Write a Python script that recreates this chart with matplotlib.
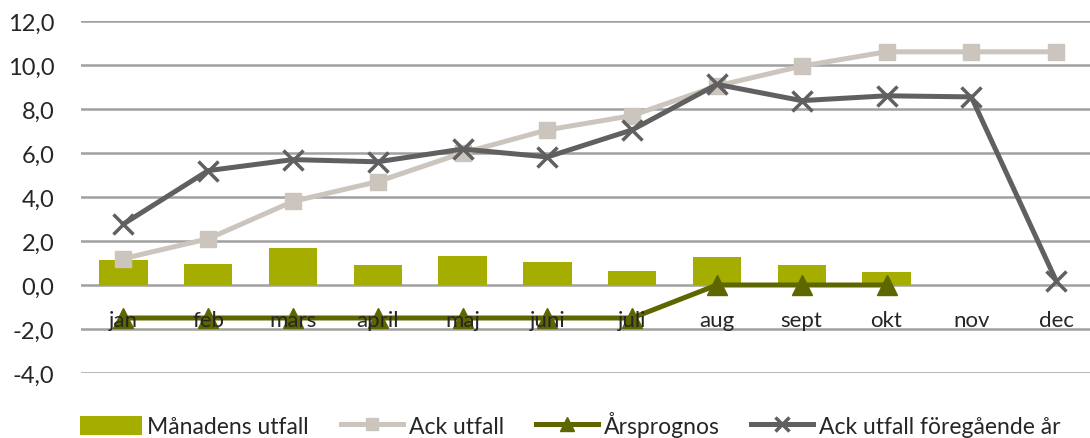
import matplotlib
matplotlib.use("Agg")
import matplotlib.pyplot as plt
import numpy as np
from matplotlib.ticker import FuncFormatter

months = ["jan", "feb", "mars", "april", "maj", "juni", "juli", "aug", "sept", "okt", "nov", "dec"]
manadens_utfall = [1.15, 0.95, 1.67, 0.9, 1.3, 1.05, 0.62, 1.28, 0.9, 0.6, None, None]
ack_utfall = [1.2, 2.1, 3.8, 4.7, 6.0, 7.05, 7.7, 9.05, 9.95, 10.6, 10.6, 10.6]
arsprognos = [-1.5, -1.5, -1.5, -1.5, -1.5, -1.5, -1.5, 0.0, 0.0, 0.0, None, None]
ack_foregaende = [2.77, 5.2, 5.7, 5.6, 6.18, 5.82, 7.05, 9.12, 8.38, 8.6, 8.55, 0.2]
yticks = [-4, -2, 0, 2, 4, 6, 8, 10, 12]

plt.rcParams['font.family'] = ['Lato', 'DejaVu Sans']
fig = plt.figure(figsize=(10.9, 4.39), dpi=100)
ax = fig.add_axes([81/1090, 1-374/439, 1-81/1090, (374-22)/439])

x = np.arange(len(months))
bar_x = [i for i, v in enumerate(manadens_utfall) if v is not None]
bar_v = [v for v in manadens_utfall if v is not None]
hb = ax.bar(bar_x, bar_v, width=0.57, color="#A5AD00", zorder=2, label="Månadens utfall")

h1, = ax.plot(x, ack_utfall, color="#CBC5BE", lw=3.6, marker="s", ms=11, mec="#CBC5BE",
              zorder=3, label="Ack utfall")
px = [i for i, v in enumerate(arsprognos) if v is not None]
pv = [v for v in arsprognos if v is not None]
h2, = ax.plot(px, pv, color="#5E6600", lw=3.6, marker="^", ms=14, zorder=4, label="Årsprognos")
h3, = ax.plot(x, ack_foregaende, color="#606060", lw=3.6, marker="x", ms=14, mew=2.5,
              zorder=5, label="Ack utfall föregående år")

ax.set_xlim(-0.5, 11.4)
ax.set_ylim(-4, 12)
ax.set_yticks(yticks)
ax.yaxis.set_major_formatter(FuncFormatter(lambda v, p: f"{v:.1f}".replace(".", ",")))
ax.grid(axis="y", color="#A0A0A0", lw=1.8)
ax.set_axisbelow(True)
for s in ax.spines.values():
    s.set_visible(False)
ax.tick_params(axis="y", length=0, pad=19, labelsize=17, labelcolor="#262626")
ax.set_xticks(x)
ax.set_xticklabels(months)
ax.spines['bottom'].set_position(('data', 0))
ax.tick_params(axis="x", length=0, pad=18, labelsize=16, labelcolor="#262626")
ax.xaxis.set_zorder(10)

fig.legend([hb, h1, h2, h3], ["Månadens utfall", "Ack utfall", "Årsprognos", "Ack utfall föregående år"],
           loc="lower center", bbox_to_anchor=(0.523, -0.045), ncol=4, frameon=False,
           fontsize=16.5, handlelength=2.7, handleheight=0.9, columnspacing=1.4, handletextpad=0.25,
           markerscale=0.75, labelcolor="#262626")

fig.savefig("out.png", dpi=100)
